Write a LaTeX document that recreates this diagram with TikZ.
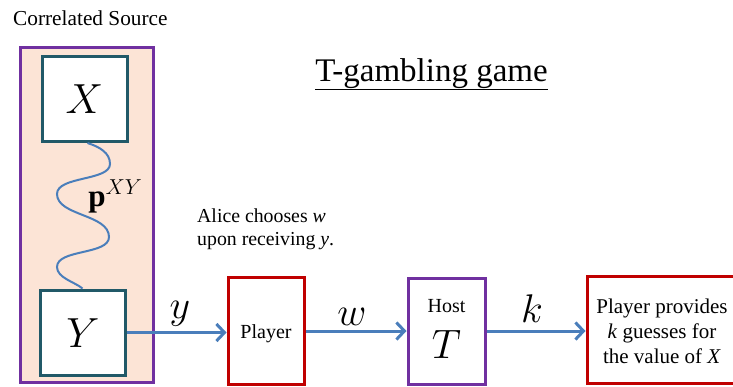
\documentclass[tikz,border=0pt]{standalone}
\usepackage{fontspec}
\setmainfont{Liberation Serif}
\usetikzlibrary{arrows.meta}
\definecolor{srcpurple}{HTML}{7030A0}
\definecolor{boxteal}{HTML}{215968}
\definecolor{boxred}{HTML}{C00000}
\definecolor{arrowblue}{HTML}{4A7EBB}
\definecolor{peach}{HTML}{FCE4D6}
\newcommand{\mfont}{\fontsize{20.74}{25}\selectfont}
\begin{document}
\begin{tikzpicture}[x=1pt,y=-1pt,
  srcbox/.style={draw=srcpurple,line width=3pt,fill=peach,minimum width=133pt,minimum height=335pt,inner sep=0pt},
  varbox/.style={draw=boxteal,line width=3pt,fill=white,minimum width=85pt,minimum height=85pt,inner sep=0pt},
  redbox/.style={draw=boxred,line width=3pt,fill=white,minimum height=107pt,inner sep=0pt},
  hostbox/.style={draw=srcpurple,line width=3pt,fill=white,minimum width=77pt,minimum height=106pt,inner sep=0pt},
  arr/.style={draw=arrowblue,line width=3pt,-{Straight Barb[length=8pt,width=17pt]}},
  wave/.style={draw=arrowblue,line width=2pt},
  mathlbl/.style={font=\mfont,inner sep=0pt},
  biglbl/.style={mathlbl,scale=1.93,anchor=base},
  txt/.style={font=\fontsize{20}{24}\selectfont,inner sep=0pt}
]
\useasboundingbox (0,0) rectangle (733,386);
\clip (0,0) rectangle (733,386);

% correlated source
\node[txt,font=\fontsize{21.3}{26}\selectfont,anchor=base west] (srclbl) at (13,25) {Correlated Source};
\node[srcbox] (src) at (86.5,214.5) {};
\node[varbox] (X) at (84.5,99) {};
\node[varbox] (Y) at (82.5,332.5) {};
\node[mathlbl,scale=2.03,anchor=base] (Xlbl) at (84.5,113) {$X$};
\node[mathlbl,scale=2.03,anchor=base] (Ylbl) at (83,347) {$Y$};
\draw[wave] ([xshift=3pt]X.south)
  .. controls (100,147) and (110,153) .. (110,164)
  .. controls (110,181) and (57,176) .. (57,194)
  .. controls (57,216) and (109,214) .. (109,237)
  .. controls (109,255) and (57,249) .. (57,267)
  .. controls (57,278) and (75,282) .. (Y.north);
\node[mathlbl,scale=1.5,anchor=base west] (pxy) at (88,206) {$\mathbf{p}^{XY}$};

% title
\node[inner sep=0pt,anchor=base,font=\fontsize{33}{40}\selectfont] (title) at (431.5,81) {T-gambling game};
\draw[line width=1.5pt] ([yshift=-8.5pt]title.base west) -- ([yshift=-8.5pt]title.base east);

% Alice text
\node[txt,font=\fontsize{19.8}{23}\selectfont,align=left,anchor=west] (alice) at (197,229)
  {Alice chooses \textit{w}\\upon receiving \textit{y}.};

% player, host, output
\node[redbox,minimum width=76pt] (player) at (266,331) {};
\node[txt,anchor=base] (playerlbl) at (266,338) {Player};
\node[hostbox] (host) at (446.5,331) {};
\node[txt,anchor=base] (hostlbl) at (446.5,312) {Host};
\node[mathlbl,scale=1.98,anchor=base] (hostT) at (446.5,358) {$T$};
\node[redbox,minimum width=160pt] (out) at (667,329.5) {};
\node[txt,font=\fontsize{21}{25}\selectfont,align=center,anchor=center] (outtxt) at (662,331)
  {Player provides\\\textit{k} guesses for\\the value of \textit{X}};

% arrows
\draw[arr] (Y.east) -- (Y.east -| player.west);
\draw[arr] (player.east) -- (host.west);
\draw[arr] (host.east) -- (host.east -| out.west);
\node[biglbl] (ylbl) at (180,318) {$y$};
\node[biglbl] (wlbl) at (352,325) {$w$};
\node[biglbl] (klbl) at (532,322) {$k$};
\end{tikzpicture}
\end{document}
